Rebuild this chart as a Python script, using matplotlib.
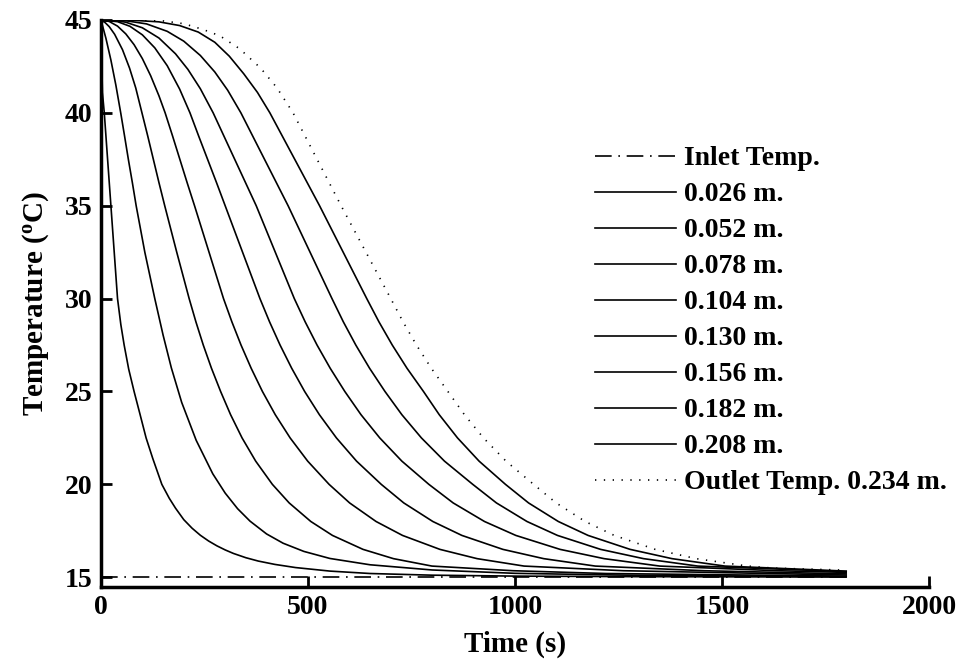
import matplotlib
matplotlib.use('Agg')
import matplotlib.pyplot as plt

plt.rcParams['font.family'] = ['Liberation Serif', 'DejaVu Serif']
plt.rcParams['font.weight'] = 'bold'
plt.rcParams['axes.labelweight'] = 'bold'
plt.rcParams['mathtext.fontset'] = 'custom'
plt.rcParams['mathtext.rm'] = 'Liberation Serif:bold'
plt.rcParams['mathtext.it'] = 'Liberation Serif:bold'

# (time s, temperature C)
inlet = [(0, 15), (1800, 15)]

p_026 = [(0, 45), (1, 43.8), (2, 42.6), (3.5, 41.1), (8, 40), (12, 38.75), (16, 37.5), (20, 36.25), (24, 35),
         (32, 32.5), (40, 30), (48, 28.6), (56, 27.5), (67, 26.2), (80, 25), (94, 23.8), (109, 22.5), (125, 21.4),
         (147, 20.0), (165, 19.25), (180, 18.72), (200, 18.1), (220, 17.64), (240, 17.26), (260, 16.95),
         (280, 16.69), (300, 16.47), (320, 16.28), (350, 16.05), (380, 15.87), (420, 15.69), (470, 15.52),
         (553, 15.33), (650, 15.2), (800, 15.11), (1000, 15.06), (1300, 15.03), (1800, 15.01)]

p_052 = [(0, 45), (12, 44.01), (24, 42.84), (36, 41.49), (48, 39.96), (57, 38.75), (66.5, 37.45), (76, 36.22),
         (85, 35), (106, 32.49), (130, 30.0), (150, 28.04), (170, 26.27), (195, 24.41), (230, 22.37),
         (270, 20.57), (300, 19.53), (330, 18.69), (360, 18.02), (400, 17.33), (440, 16.83), (490, 16.39),
         (553, 16.01), (650, 15.67), (800, 15.39), (1000, 15.21), (1300, 15.1), (1800, 15.03)]

p_078 = [(0, 45), (10, 44.86), (20, 44.64), (33, 44.23), (52, 43.4), (69, 42.41), (84, 41.34), (99, 40),
         (113, 38.75), (126.5, 37.5), (140, 36.25), (154, 35), (168.5, 33.75), (183, 32.5), (198, 31.25),
         (213, 30), (229.3, 28.75), (247.1, 27.5), (266.9, 26.25), (289, 25), (313.1, 23.75), (340.8, 22.5),
         (373.7, 21.25), (414, 20), (454.6, 19), (506.9, 18), (559.2, 17.25), (632.9, 16.5), (706.5, 16),
         (799.5, 15.6), (995.5, 15.35), (1219.5, 15.2), (1800, 15.06)]

p_104 = [(0, 45), (20, 44.92), (40, 44.67), (60, 44.25), (80, 43.67), (100, 42.92), (120, 42.0), (140, 40.92),
         (155, 40), (173, 38.75), (190.5, 37.5), (208, 36.25), (226, 35), (243.5, 33.75), (261, 32.5),
         (278.5, 31.25), (296, 30), (316.2, 28.75), (338.3, 27.5), (362.8, 26.25), (390, 25), (421, 23.75),
         (456.9, 22.5), (499.3, 21.25), (551, 20), (600.6, 19), (664.5, 18), (728.4, 17.25), (818.6, 16.5),
         (908.6, 16), (1022.1, 15.6), (1261.7, 15.35), (1800, 15.12)]

p_130 = [(0, 45), (40, 44.91), (70, 44.66), (100, 44.2), (130, 43.5), (160, 42.54), (190, 41.28), (215, 40),
         (236, 38.75), (257.5, 37.5), (279, 36.25), (300, 35), (321, 33.75), (342, 32.5), (363, 31.25),
         (384, 30), (407.2, 28.75), (432.6, 27.5), (460.7, 26.25), (492, 25), (527.6, 23.75), (568.7, 22.5),
         (617.3, 21.25), (677, 20), (731.4, 19), (801.6, 18), (871.8, 17.25), (970.7, 16.5), (1069.4, 16),
         (1194.1, 15.6), (1457, 15.35), (1800, 15.18)]

p_156 = [(0, 45), (30, 44.98), (60, 44.88), (100, 44.58), (140, 44.03), (180, 43.18), (210, 42.34), (240, 41.3),
         (271, 40), (297, 38.75), (323, 37.5), (349, 36.25), (375, 35), (398, 33.75), (421, 32.5), (444, 31.25),
         (467, 30), (493.2, 28.75), (521.9, 27.5), (553.7, 26.25), (589, 25), (628.1, 23.75), (673.4, 22.5),
         (726.8, 21.25), (792, 20), (850.7, 19), (926.4, 18), (1002.1, 17.25), (1108.8, 16.5), (1215.4, 16),
         (1349.9, 15.6), (1633.6, 15.35), (1800, 15.26)]

p_182 = [(0, 45), (60, 44.96), (110, 44.79), (160, 44.39), (200, 43.86), (240, 43.09), (275, 42.2), (306, 41.22),
         (338, 40), (366.5, 38.75), (395, 37.5), (423.5, 36.25), (452, 35), (478.5, 33.75), (505, 32.5),
         (531.5, 31.25), (558, 30), (585.4, 28.75), (615.5, 27.5), (648.8, 26.25), (686, 25), (726.8, 23.75),
         (774, 22.5), (829.7, 21.25), (898, 20), (955.2, 19), (1029, 18), (1102.7, 17.25), (1206.7, 16.5),
         (1310.6, 16), (1441.6, 15.6), (1800, 15.3)]

p_208 = [(0, 45), (80, 44.98), (140, 44.9), (190, 44.7), (235, 44.35), (275, 43.8), (310, 43.05), (345, 42.1),
         (378, 41.1), (408, 40), (438, 38.75), (468, 37.5), (498, 36.25), (528, 35), (556.5, 33.75), (585, 32.5),
         (613.5, 31.25), (642, 30), (671.4, 28.75), (703.6, 27.5), (739.2, 26.25), (779, 25), (817.1, 23.75),
         (861.2, 22.5), (913.3, 21.25), (977, 20), (1032.8, 19), (1104.7, 18), (1176.6, 17.25), (1278, 16.5),
         (1379.3, 16), (1507, 15.6), (1800, 15.33)]

p_out = [(0, 45), (100, 44.99), (150, 44.95), (200, 44.8), (245, 44.5), (287, 44.15), (335, 43.45), (386, 42.4),
         (425, 41.35), (464, 40), (493, 38.75), (522, 37.5), (551, 36.25), (580, 35), (610, 33.75), (640, 32.5),
         (670, 31.25), (700, 30), (729.6, 28.75), (762, 27.5), (797.9, 26.25), (838, 25), (877.9, 23.75),
         (923.9, 22.5), (978.3, 21.25), (1045, 20), (1099.4, 19), (1169.6, 18), (1239.8, 17.25), (1338.7, 16.5),
         (1437.4, 16), (1562.1, 15.6), (1624, 15.49), (1800, 15.38)]

labels = ['0.026 m.', '0.052 m.', '0.078 m.', '0.104 m.', '0.130 m.', '0.156 m.', '0.182 m.', '0.208 m.']
curves = [p_026, p_052, p_078, p_104, p_130, p_156, p_182, p_208]

fig = plt.figure(figsize=(9.69, 6.64), dpi=100)
ax = fig.add_axes([0.1042, 0.1167, 0.8545, 0.8532])

lw = 1.2
t, T = zip(*inlet)
ax.plot(t, T, color='black', lw=lw, linestyle=(0, (10, 4, 1, 4)), label='Inlet Temp.')
for pts, name in zip(curves, labels):
    t, T = zip(*pts)
    ax.plot(t, T, color='black', lw=lw, solid_joinstyle='round', label=name)
t, T = zip(*p_out)
ax.plot(t, T, color='black', lw=lw, linestyle=(0, (0.8, 4.5)), label='Outlet Temp. 0.234 m.')

ax.set_xlim(0, 2000)
ax.set_ylim(14.5, 45)
ax.set_xticks([0, 500, 1000, 1500, 2000])
ax.set_yticks([15, 20, 25, 30, 35, 40, 45])

for s in ['top', 'right']:
    ax.spines[s].set_visible(False)
for s in ['left', 'bottom']:
    ax.spines[s].set_linewidth(2.5)

ax.tick_params(direction='in', length=8, width=2, labelsize=20, pad=6)
ax.set_xlabel('Time (s)', fontsize=21, fontweight='bold', labelpad=8)
ax.set_ylabel(r'Temperature ($^{\mathrm{o}}$C)', fontsize=21, fontweight='bold', labelpad=10)

ax.legend(loc='upper left', bbox_to_anchor=(595 / 969, 1 - 146 / 664),
          bbox_transform=fig.transFigure, frameon=False, fontsize=20,
          handlelength=2.9, handletextpad=0.3, labelspacing=0.38,
          borderpad=0, borderaxespad=0)

fig.savefig('out.png', dpi=100)
